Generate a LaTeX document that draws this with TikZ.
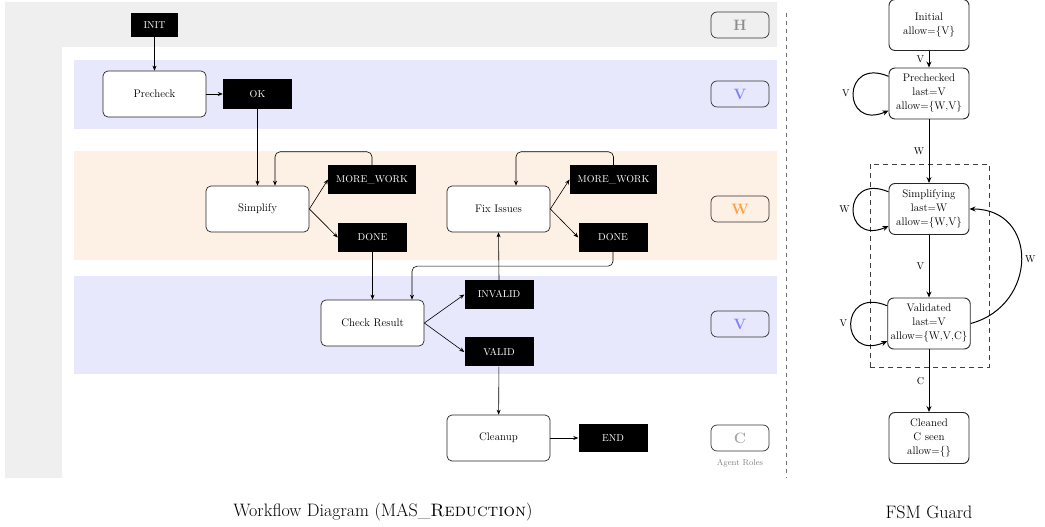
\documentclass[tikz,border=0pt]{standalone}
\usepackage{xcolor}
\usepackage{tikz}
\usetikzlibrary{arrows.meta,calc}

\definecolor{hband}{HTML}{EFEFEF}
\definecolor{vlane}{HTML}{E8E8FC}
\definecolor{wlane}{HTML}{FDF0E4}
\definecolor{vrole}{HTML}{8080FF}
\definecolor{wrole}{HTML}{FFA040}

\begin{document}
\begin{tikzpicture}[
    x=1pt, y=1pt,
    proc/.style={
      rectangle,
      rounded corners=5pt,
      draw=black!85,
      line width=0.7pt,
      fill=white,
      minimum width=103pt,
      minimum height=46pt,
      font=\fontsize{11}{13}\selectfont
    },
    outcome/.style={
      rectangle,
      fill=black,
      text=white,
      minimum width=69pt,
      minimum height=29pt,
      inner xsep=8pt,
      font=\fontsize{10}{12}\selectfont
    },
    role/.style={
      rectangle,
      rounded corners=6pt,
      draw=black!80,
      line width=0.7pt,
      minimum width=58pt,
      minimum height=26pt,
      font=\fontsize{15}{18}\selectfont\bfseries
    },
    flow/.style={-{Stealth[length=5pt,width=4pt]}, line width=0.6pt},
    fsmstate/.style={
      rectangle,
      rounded corners=6pt,
      draw=black!85,
      line width=0.9pt,
      fill=white,
      minimum width=80pt,
      minimum height=51pt,
      align=center,
      inner sep=3pt,
      font=\fontsize{11}{14}\selectfont
    },
    guard/.style={-{Stealth[length=6pt,width=5pt]}, line width=1pt},
  ]
  \useasboundingbox (0,0) rectangle (1045,527);

  % lanes
  \fill[hband] (5,525) -- (777,525) -- (777,480) -- (62,480) -- (62,49) -- (5,49) -- cycle;
  \fill[vlane] (74,398) rectangle (777,467);
  \fill[wlane] (74,267) rectangle (777,376);
  \fill[vlane] (74,153) rectangle (777,251);

  % role badges
  \node[role, text=black!45] (roleH) at (740,502) {H};
  \node[role, text=vrole] (roleV1) at (740,433) {V};
  \node[role, text=wrole] (roleW) at (740,318) {W};
  \node[role, text=vrole] (roleV2) at (740,203) {V};
  \node[role, text=black!35] (roleC) at (740,89) {C};
  \node[font=\fontsize{8.5}{10}\selectfont, text=black!50] (roles) at (740,64) {Agent Roles};

  % workflow
  \node[outcome, minimum width=47pt, minimum height=24pt] (init) at (154.5,502) {INIT};
  \node[proc] (precheck) at (154.5,433) {Precheck};
  \node[outcome, minimum height=30pt] (ok) at (257.5,433) {OK};
  \node[proc] (simplify) at (257.5,318) {Simplify};
  \node[outcome] (more1) at (372,347.5) {MORE\_WORK};
  \node[outcome] (done1) at (372.5,289.5) {DONE};
  \node[proc] (check) at (372.5,204) {Check Result};
  \node[proc] (fix) at (498.5,318) {Fix Issues};
  \node[outcome] (more2) at (613.5,347.5) {MORE\_WORK};
  \node[outcome] (done2) at (613,289.5) {DONE};
  \node[outcome] (invalid) at (499,232.5) {INVALID};
  \node[outcome] (valid) at (499,175) {VALID};
  \node[proc] (cleanup) at (498.5,89) {Cleanup};
  \node[outcome, minimum height=28pt] (finish) at (613,89) {END};

  \draw[flow] (init) -- (precheck);
  \draw[flow] (precheck) -- (ok);
  \draw[flow] (ok) -- (simplify);
  \draw[flow] (simplify.east) -- (more1.west);
  \draw[flow] (simplify.east) -- (done1.west);
  \draw[flow, rounded corners=5pt] (more1.north) -- ++(0,13) -| ([xshift=17.5pt]simplify.north);
  \draw[flow] (done1.south) -- (check.north);
  \draw[flow, rounded corners=5pt] (done2.south) -- ++(0,-14) -| ([xshift=39.5pt]check.north);
  \draw[flow] (check.east) -- (invalid.west);
  \draw[flow] (check.east) -- (valid.west);
  \draw[flow] (invalid.north) -- (fix.south);
  \draw[flow] (fix.east) -- (more2.west);
  \draw[flow] (fix.east) -- (done2.west);
  \draw[flow, rounded corners=5pt] (more2.north) -- ++(0,13) -| ([xshift=17.5pt]fix.north);
  \draw[flow] (valid) -- (cleanup);
  \draw[flow] (cleanup) -- (finish);

  % separator
  \draw[black!55, dash pattern=on 4pt off 4pt, line width=0.6pt] (786,514) -- (786,49);

  % FSM guard
  \draw[black!75, dash pattern=on 5pt off 4pt, line width=0.9pt] (870,160) rectangle (989,363);
  \node[fsmstate] (initial) at (929,502) {Initial\\allow=\{V\}};
  \node[fsmstate] (prechecked) at (929,433.5) {Prechecked\\last=V\\allow=\{W,V\}};
  \node[fsmstate] (simplifying) at (929,318) {Simplifying\\last=W\\allow=\{W,V\}};
  \node[fsmstate] (validated) at (929,203.5) {Validated\\last=V\\allow=\{W,V,C\}};
  \node[fsmstate] (cleaned) at (929,89) {Cleaned\\C seen\\allow=\{\}};

  \draw[guard] (initial) -- node[left=1pt] {V} (prechecked);
  \draw[guard] (prechecked) -- node[left=1pt] {W} (simplifying);
  \draw[guard] (simplifying) -- node[left=1pt] {V} (validated);
  \draw[guard] (validated) -- node[left=1pt] {C} (cleaned);
  \draw[guard] (prechecked) to[out=157,in=203,looseness=3.8] node[left] {V} (prechecked);
  \draw[guard] (simplifying) to[out=157,in=203,looseness=3.8] node[left] {W} (simplifying);
  \draw[guard] (validated) to[out=157,in=203,looseness=3.8] node[left] {V} (validated);
  \draw[guard] (validated.east) to[out=15,in=0,looseness=1.55] node[right] {W} (simplifying.east);

  % captions
  \node[font=\fontsize{18}{22}\selectfont] (wfcap) at (383,15) {Workflow Diagram (MAS\_\textsc{Reduction})};
  \node[font=\fontsize{18}{22}\selectfont] (fsmcap) at (929,15) {FSM Guard};
\end{tikzpicture}
\end{document}
